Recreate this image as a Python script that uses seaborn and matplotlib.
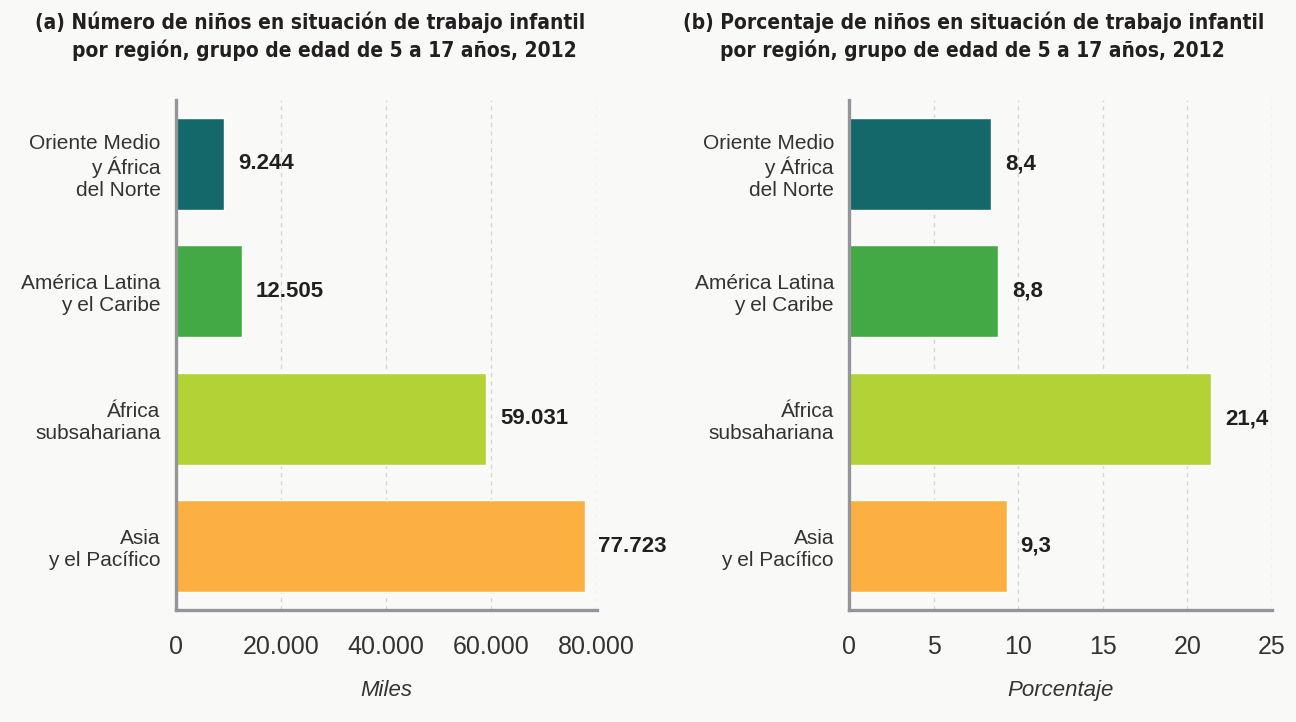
import seaborn as sns
import matplotlib.pyplot as plt
import pandas as pd

# data
regions = ["Oriente Medio\ny África\ndel Norte", "América Latina\ny el Caribe",
           "África\nsubsahariana", "Asia\ny el Pacífico"]
miles = [9244, 12505, 59031, 77723]
porcentaje = [8.4, 8.8, 21.4, 9.3]
colors = ["#146869", "#43a945", "#b2d235", "#fdb042"]

ticks_a = [0, 20000, 40000, 60000, 80000]
ticks_b = [0, 5, 10, 15, 20, 25]

df = pd.DataFrame({"region": regions, "miles": miles, "pct": porcentaje})

sns.set_style("white")
plt.rcParams["font.family"] = ["Liberation Sans", "DejaVu Sans"]

bg = "#f9faf8"
fig = plt.figure(figsize=(12.96, 7.22), dpi=100, facecolor=bg)
ax_a = fig.add_axes([0.1356, 0.1551, 0.3247, 0.7064])
ax_b = fig.add_axes([0.6553, 0.1551, 0.3262, 0.7064])


def fmt_miles(v):
    return f"{v:,.0f}".replace(",", ".")


def fmt_pct(v):
    return f"{v:.1f}".replace(".", ",")


def draw(ax, col, ticks, tick_fmt, label_fmt, xlabel):
    sns.barplot(data=df, x=col, y="region", hue="region", palette=colors,
                legend=False, width=0.72, saturation=1, ax=ax, zorder=3)
    ax.set_facecolor(bg)
    ax.set_xlim(ticks[0], ticks[-1])
    ax.set_xticks(ticks)
    ax.set_xticklabels([tick_fmt(t) for t in ticks])
    ax.tick_params(axis="x", length=0, pad=18, labelsize=18, labelcolor="#333333")
    ax.tick_params(axis="y", length=0, pad=11, labelsize=15, labelcolor="#333333")
    for lab in ax.get_yticklabels():
        lab.set_horizontalalignment("right")
        lab.set_multialignment("right")
    ax.set_ylabel("")
    ax.set_xlabel(xlabel, fontsize=16, style="italic", color="#333333", labelpad=15)
    for t in ticks[1:]:
        ax.axvline(t, color="#d6d6d6", lw=1, ls=(0, (3, 3)), zorder=1)
    for s in ["top", "right"]:
        ax.spines[s].set_visible(False)
    for s in ["left", "bottom"]:
        ax.spines[s].set_color("#939598")
        ax.spines[s].set_linewidth(2.4)
        ax.spines[s].set_zorder(4)
    for container in ax.containers:
        for bar in container:
            w = bar.get_width()
            ax.annotate(label_fmt(w), (w, bar.get_y() + bar.get_height() / 2),
                        xytext=(10, 0), textcoords="offset points",
                        ha="left", va="center", fontsize=16, fontweight="bold",
                        color="#231f20")


draw(ax_a, "miles", ticks_a, fmt_miles, fmt_miles, "Miles")
draw(ax_b, "pct", ticks_b, lambda t: str(t), fmt_pct, "Porcentaje")

title_font = dict(fontsize=15, fontweight="bold", fontstretch="condensed", color="#231f20",
                  family=["DejaVu Sans Condensed", "DejaVu Sans"], va="center")
fig.text(35 / 1296, 1 - 22 / 722, "(a) Número de niños en situación de trabajo infantil", **title_font)
fig.text(72 / 1296, 1 - 50 / 722, "por región, grupo de edad de 5 a 17 años, 2012", **title_font)
fig.text(683 / 1296, 1 - 22 / 722, "(b) Porcentaje de niños en situación de trabajo infantil", **title_font)
fig.text(720 / 1296, 1 - 50 / 722, "por región, grupo de edad de 5 a 17 años, 2012", **title_font)

fig.savefig("out.png", dpi=100, facecolor=bg)
plt.close(fig)
